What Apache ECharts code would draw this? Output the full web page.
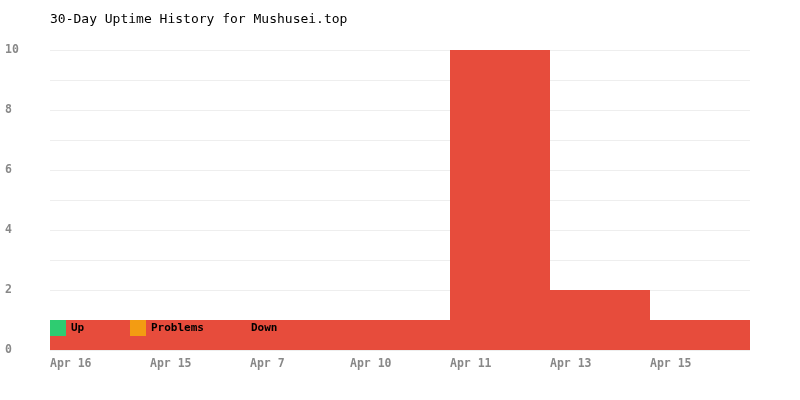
<!DOCTYPE html>
<html><head><meta charset="utf-8">
<script src="https://cdn.jsdelivr.net/npm/echarts@6/dist/echarts.min.js"></script>
<style>html,body{margin:0;padding:0;background:#fff}#c{width:800px;height:400px}</style>
</head><body><div id="c"></div>
<script>
const categories = ['Apr 16','Apr 15','Apr 7','Apr 10','Apr 11','Apr 13','Apr 15'];
const upValues = [0,0,0,0,0,0,0];
const problemValues = [0,0,0,0,0,0,0];
const downValues = [1,1,1,1,10,2,1];
const yMax = 10;

const mono = 'DejaVu Sans Mono';
const chart = echarts.init(document.getElementById('c'));
const legendText = {fontFamily: mono, fontWeight: 'bold', fontSize: 11, color: '#000'};
const legendBase = {top: 320, padding: 0, itemWidth: 16, itemHeight: 16, itemGap: 0, icon: 'rect', textStyle: legendText};
chart.setOption({
  animation: false,
  title: {text: '30-Day Uptime History for Mushusei.top', left: 45, top: 8,
    textStyle: {fontFamily: mono, fontWeight: 'normal', fontSize: 13, color: '#000'}},
  legend: [
    Object.assign({data: ['Up'], left: 50}, legendBase),
    Object.assign({data: ['Problems'], left: 130}, legendBase),
    Object.assign({data: ['Down'], left: 230}, legendBase)
  ],
  grid: {left: 50, right: 50, top: 50, bottom: 50},
  xAxis: [
    {type: 'category', data: categories, boundaryGap: true,
      axisLine: {show: false}, axisTick: {show: false}, axisLabel: {show: false}},
    {type: 'category', position: 'bottom', data: categories.concat(['']), boundaryGap: false,
      axisLine: {show: false}, axisTick: {show: false},
      axisLabel: {align: 'left', margin: 8, fontFamily: mono, fontWeight: 'bold', fontSize: 11.5, color: '#888', interval: 0}}
  ],
  yAxis: {type: 'value', min: 0, max: yMax, interval: 1,
    axisLine: {show: false}, axisTick: {show: false},
    splitLine: {lineStyle: {color: '#eeeeee'}},
    axisLabel: {align: 'left', margin: 45, fontFamily: mono, fontWeight: 'bold', fontSize: 11.5, color: '#888',
      formatter: v => (v % 2 === 0 ? String(v) : '')}},
  series: [
    {name: 'Up', type: 'bar', stack: 's', data: upValues, itemStyle: {color: '#2ecc71'}, barCategoryGap: '0%', barWidth: '100%'},
    {name: 'Problems', type: 'bar', stack: 's', data: problemValues, itemStyle: {color: '#f39c12'}, barWidth: '100%'},
    {name: 'Down', type: 'bar', stack: 's', data: downValues, itemStyle: {color: '#e74c3c'}, barWidth: '100%'}
  ]
});
</script></body></html>
